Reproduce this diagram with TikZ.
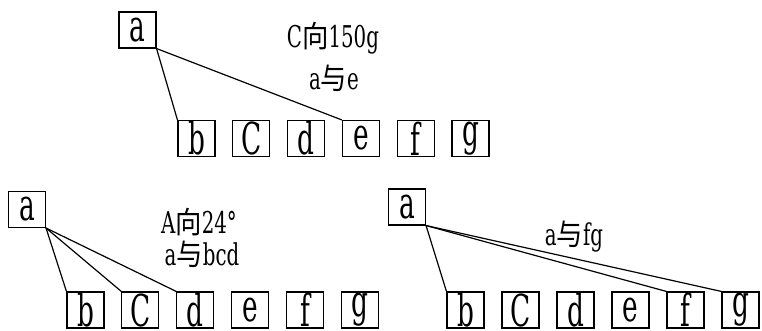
\documentclass[tikz,border=0pt]{standalone}
\usepackage{fontspec}
\setmainfont{DejaVu Serif}
\newfontfamily\narrowfont[FakeStretch=0.66]{DejaVu Serif}
\newfontfamily\boxfont[FakeStretch=0.6]{DejaVu Serif}
\newfontfamily\hanfont[FakeStretch=0.88]{Noto Sans CJK SC}
\newcommand{\zh}[1]{{\hanfont #1}}

\tikzset{
  letterbox/.style={draw, line width=1.1pt, minimum width=37pt, minimum height=36pt,
    inner sep=0pt, font=\boxfont\fontsize{44}{44}\selectfont},
  caption/.style={font=\narrowfont\fontsize{30}{36}\selectfont},
  link/.style={line width=1.2pt}
}

\begin{document}
\begin{tikzpicture}[x=1pt, y=-1pt]
    \useasboundingbox (0,0) rectangle (762,331);

    % Top group: a with e
    \node[letterbox] (ta) at (137.5,30) {a};
    \foreach \n [count=\i from 0] in {b,C,d,e,f,g}
        \node[letterbox] (t\n) at ({196.5+54.8*\i},138.5) {\n};
    \node[caption] (tcapa) at (333,38) {C\zh{向}150g};
    \node[caption] (tcapb) at (334,78) {a\zh{与}e};
    \draw[link] (ta.south east) -- (tb.north west);
    \draw[link] (ta.south east) -- (te.north west);

    % Bottom left group: a with bcd
    \node[letterbox] (la) at (27,209.5) {a};
    \foreach \n [count=\i from 0] in {b,C,d,e,f,g}
        \node[letterbox] (l\n) at ({85.5+54.9*\i},310) {\n};
    \node[caption] (lcapa) at (199,222) {A\zh{向}24°};
    \node[caption] (lcapb) at (202,254) {a\zh{与}bcd};
    \foreach \n in {b,C,d}
        \draw[link] (la.south east) -- (l\n.north west);

    % Bottom right group: a with fg
    \node[letterbox] (ra) at (407,207) {a};
    \foreach \n [count=\i from 0] in {b,C,d,e,f,g}
        \node[letterbox] (r\n) at ({465.5+55*\i},310) {\n};
    \node[caption] (rcap) at (574,237) {a\zh{与}fg};
    \foreach \n in {b,f,g}
        \draw[link] (ra.south east) -- (r\n.north west);

\end{tikzpicture}
\end{document}
